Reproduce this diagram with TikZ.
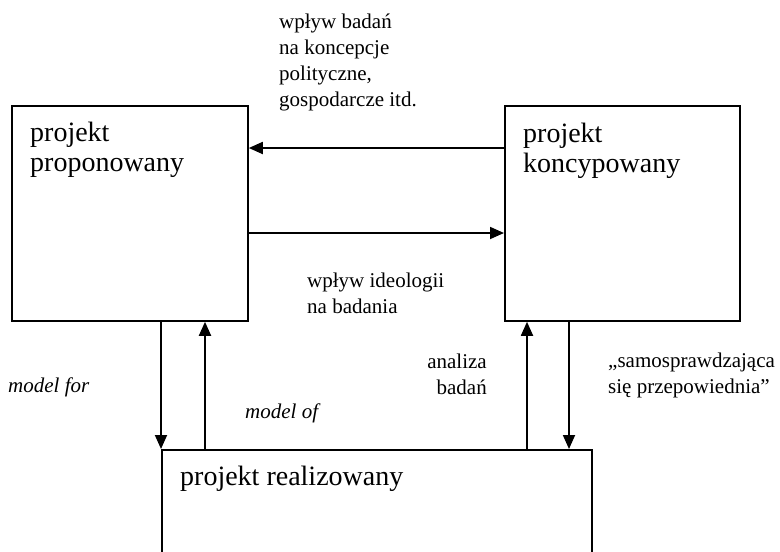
\documentclass[tikz,border=0pt]{standalone}
\usepackage{fontspec}
\setmainfont{Liberation Serif}
\usetikzlibrary{arrows.meta}
\begin{document}
\begin{tikzpicture}[x=1pt,y=-1pt,
  box/.style={draw,line width=1.8pt,inner sep=0pt,anchor=north west},
  boxtext/.style={anchor=base west,inner sep=0pt,align=left,
    font=\fontsize{28}{30}\selectfont},
  lbl/.style={inner sep=0pt,font=\fontsize{21}{26}\selectfont},
  arr/.style={line width=1.8pt,-{Triangle[length=14pt,width=12pt]}}]
\useasboundingbox (0,0) rectangle (780,552);
% the three projects
\node[box,minimum width=236pt,minimum height=215pt] (L) at (11,105) {};
\node[box,minimum width=235pt,minimum height=215pt] (R) at (504,105) {};
\node[box,minimum width=430pt,minimum height=160pt] (B) at (161,449) {};
% text positions are given at the baseline of the last line
\node[boxtext] (Lt) at (30,171) {projekt\\proponowany};
\node[boxtext] (Rt) at (523,172) {projekt\\koncypowany};
\node[boxtext] (Bt) at (180,485) {projekt realizowany};
% horizontal influences
\coordinate (h1) at (0,148);
\coordinate (h2) at (0,233);
\draw[arr] (R.west |- h1) -- (L.east |- h1);
\draw[arr] (L.east |- h2) -- (R.west |- h2);
% vertical links
\coordinate (v1) at (161,0);
\coordinate (v2) at (205,0);
\coordinate (v3) at (527,0);
\coordinate (v4) at (569,0);
\draw[arr] (v1 |- L.south) -- (v1 |- B.north);
\draw[arr] (v2 |- B.north) -- (v2 |- L.south);
\draw[arr] (v3 |- B.north) -- (v3 |- R.south);
\draw[arr] (v4 |- R.south) -- (v4 |- B.north);
% labels
\node[lbl,anchor=base west,align=left] (t1) at (279,106)
  {wpływ badań\\na koncepcje\\polityczne,\\gospodarcze itd.};
\node[lbl,anchor=base west,align=left] (t2) at (307,313)
  {wpływ ideologii\\na badania};
\node[lbl,anchor=base west] (t3) at (8,392) {\itshape model for};
\node[lbl,anchor=base west] (t4) at (245,418) {\itshape model of};
\node[lbl,anchor=base east,align=right] (t5) at (487,394) {analiza\\badań};
\node[lbl,anchor=base west,align=left] (t6) at (608,393)
  {„samosprawdzająca\\się przepowiednia”};
\end{tikzpicture}
\end{document}
